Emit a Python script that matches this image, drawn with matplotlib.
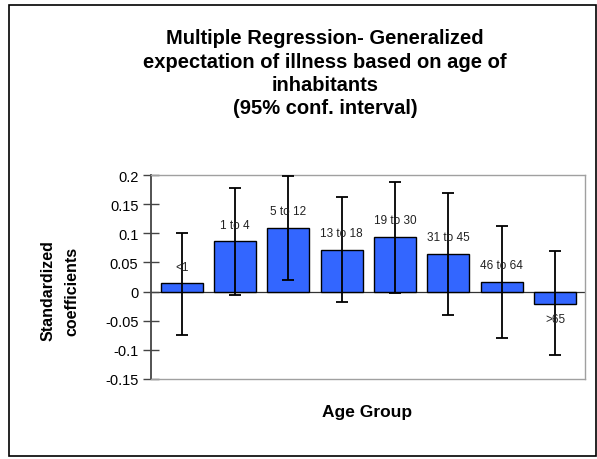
import matplotlib
matplotlib.use("Agg")
import matplotlib.pyplot as plt
from matplotlib.patches import Rectangle
import numpy as np

plt.rcParams['font.family'] = ['Liberation Sans', 'DejaVu Sans']

categories = ["<1", "1 to 4", "5 to 12", "13 to 18", "19 to 30", "31 to 45", "46 to 64", ">65"]
coef = [0.014, 0.086, 0.109, 0.072, 0.094, 0.065, 0.017, -0.021]
ci_high = [0.100, 0.177, 0.198, 0.162, 0.188, 0.169, 0.112, 0.069]
ci_low = [-0.074, -0.006, 0.020, -0.018, -0.003, -0.040, -0.080, -0.109]
yticks = [-0.15, -0.1, -0.05, 0, 0.05, 0.1, 0.15, 0.2]
ytick_labels = ["-0.15", "-0.1", "-0.05", "0", "0.05", "0.1", "0.15", "0.2"]

W, H = 597, 460
fig = plt.figure(figsize=(W / 100, H / 100), dpi=100)

# outer border
fig.patches.append(Rectangle((9 / W, 1 - 457 / H), (596 - 9) / W, (457 - 6) / H,
                             transform=fig.transFigure, fill=False,
                             edgecolor='black', linewidth=1.2))

ax = fig.add_axes([151 / W, 1 - 380 / H, (585 - 151) / W, (380 - 176) / H])
x = np.arange(len(categories))
c = np.array(coef)
yerr = [c - np.array(ci_low), np.array(ci_high) - c]
ax.bar(x, coef, width=0.79, color='#3366FF', edgecolor='black', linewidth=1.0, zorder=2)
ax.errorbar(x, coef, yerr=yerr, fmt='none', ecolor='black', elinewidth=1.3,
            capsize=4.3, capthick=1.3, zorder=3)
ax.axhline(0, color='#333333', linewidth=0.9, zorder=1)

for xi, v, lab in zip(x, coef, categories):
    off = 12 if v >= 0 else -11
    ax.annotate(lab, (xi, v), xytext=(0, off), textcoords='offset points',
                ha='center', va='center', fontsize=8.5, color='#222222', zorder=4)

ax.set_xlim(-0.575, 7.56)
ax.set_ylim(-0.15, 0.2)
ax.set_yticks(yticks)
ax.set_yticklabels(ytick_labels, fontsize=10.5)
ax.set_xticks([])
ax.tick_params(axis='y', direction='inout', length=12, width=1, color='#444444', pad=3)
for s in ['top', 'right', 'bottom']:
    ax.spines[s].set_color('#A0A0A0')
    ax.spines[s].set_linewidth(1.0)
ax.spines['left'].set_color('#444444')
ax.spines['left'].set_linewidth(1.3)

fig.text(325 / W, 1 - 29 / H,
         "Multiple Regression- Generalized\nexpectation of illness based on age of\ninhabitants\n(95% conf. interval)",
         ha='center', va='top', fontsize=14.5, fontweight='bold', linespacing=1.3)
fig.text(60 / W, 1 - 291 / H, "Standardized\ncoefficients", ha='center', va='center',
         rotation=90, fontsize=11.5, fontweight='bold', linespacing=1.8)
fig.text(367 / W, 1 - 412 / H, "Age Group", ha='center', va='center',
         fontsize=12.5, fontweight='bold')

fig.savefig("out.png", dpi=100)
